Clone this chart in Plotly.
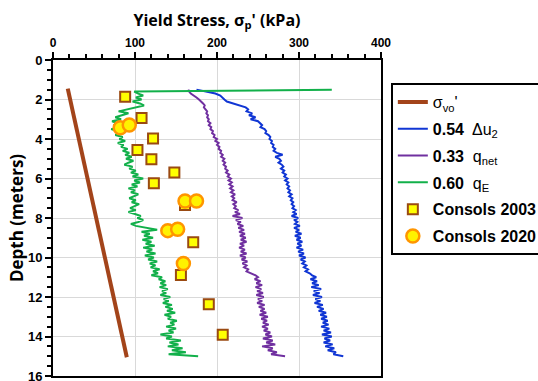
import numpy as np
import plotly.graph_objects as go

# CPT sounding depths (m), 0.1 m interval from 1.5 m to 15.0 m
depth = np.arange(15, 151) / 10.0

# Yield stress from CPT correlations (kPa), one value per depth
du2_054 = [
    175, 188, 198, 204, 206, 209, 212, 220, 229, 235,
    238, 236, 243, 239, 247, 241, 250, 252, 255, 253,
    258, 260, 259, 263, 265, 264, 267, 266, 269, 268,
    271, 269, 273, 280, 271, 276, 278, 275, 279, 281,
    278, 282, 280, 284, 282, 286, 283, 287, 285, 288,
    286, 289, 287, 291, 288, 292, 290, 293, 291, 294,
    292, 296, 293, 297, 291, 299, 294, 298, 295, 301,
    294, 300, 296, 303, 295, 302, 297, 304, 298, 303,
    297, 305, 299, 306, 300, 308, 302, 307, 304, 309,
    306, 311, 308, 313, 316, 321, 314, 322, 316, 324,
    315, 327, 318, 325, 317, 328, 320, 326, 319, 329,
    322, 330, 324, 333, 326, 334, 327, 335, 329, 336,
    327, 337, 330, 339, 328, 340, 331, 338, 330, 341,
    332, 343, 335, 345, 342, 354,
]
qnet_033 = [
    165, 166, 168, 172, 175, 178, 181, 183, 185, 184,
    186, 188, 187, 189, 188, 190, 189, 192, 190, 193,
    192, 195, 194, 197, 196, 200, 198, 202, 200, 203,
    202, 205, 204, 207, 205, 209, 207, 210, 208, 211,
    210, 213, 211, 215, 213, 217, 214, 218, 215, 219,
    216, 220, 217, 222, 218, 221, 219, 224, 220, 223,
    221, 226, 222, 228, 219, 231, 223, 229, 225, 232,
    226, 233, 227, 234, 228, 235, 229, 236, 228, 233,
    227, 234, 229, 236, 228, 235, 230, 237, 231, 236,
    233, 238, 236, 242, 247, 250, 246, 253, 248, 255,
    247, 254, 249, 256, 248, 257, 250, 255, 249, 258,
    251, 258, 253, 260, 252, 262, 254, 261, 256, 263,
    255, 262, 257, 265, 259, 267, 256, 268, 260, 271,
    255, 268, 262, 273, 266, 283,
]
qe_060 = [
    340, 99, 104, 110, 101, 108, 97, 106, 111, 100,
    88, 80, 92, 84, 76, 83, 72, 79, 74, 81,
    71, 78, 83, 76, 85, 81, 88, 79, 86, 83,
    91, 85, 93, 88, 96, 89, 98, 92, 87, 97,
    93, 101, 95, 104, 97, 110, 99, 106, 96, 103,
    92, 100, 95, 104, 98, 93, 101, 96, 105, 99,
    94, 101, 92, 100, 107, 103, 110, 104, 95, 101,
    112, 127, 108, 118, 111, 122, 109, 120, 113, 124,
    110, 121, 114, 125, 112, 123, 116, 127, 118, 125,
    119, 130, 122, 128, 120, 133, 129, 137, 131, 138,
    130, 140, 133, 138, 131, 143, 135, 141, 134, 145,
    137, 146, 139, 149, 136, 144, 140, 151, 143, 148,
    138, 150, 141, 147, 131, 145, 138, 156, 142, 153,
    140, 158, 145, 162, 141, 177,
]

# Effective overburden stress
svo_depth = [1.45, 15.05]
svo_kpa = [18, 90]

# Oedometer (consolidation) tests
cons2003_depth = [1.86, 2.94, 3.97, 4.56, 5.03, 5.70, 6.24, 7.34, 9.23, 10.89, 12.37, 13.91]
cons2003_kpa = [88, 108, 122, 103, 120, 148, 123, 161, 171, 156, 190, 207]
cons2020_depth = [3.43, 3.29, 7.14, 7.14, 8.64, 8.57, 10.30]
cons2020_kpa = [82, 93, 161, 175, 140, 152, 159]

FONT = "Liberation Sans"
TITLE_FONT = "Open Sans"

fig = go.Figure()
fig.add_trace(go.Scatter(x=svo_kpa, y=svo_depth, mode="lines", name="σ<sub>vo</sub>'",
                         line=dict(color="#A3441A", width=4), legendgroup="a"))
fig.add_trace(go.Scatter(x=du2_054, y=depth, mode="lines", name="<b>0.54</b>  Δu<sub>2</sub>",
                         line=dict(color="#1036D4", width=2), legendgroup="b"))
fig.add_trace(go.Scatter(x=qnet_033, y=depth, mode="lines", name="<b>0.33</b>  q<sub>net</sub>",
                         line=dict(color="#7030A0", width=2), legendgroup="c"))
fig.add_trace(go.Scatter(x=qe_060, y=depth, mode="lines", name="<b>0.60</b>  q<sub>E</sub>",
                         line=dict(color="#12B04A", width=2), legendgroup="d"))
fig.add_trace(go.Scatter(x=cons2003_kpa, y=cons2003_depth, mode="markers", name="<b>Consols 2003</b>",
                         marker=dict(symbol="square", size=10, color="#FFFF00",
                                     line=dict(color="#9A4A12", width=2)), legendgroup="e"))
fig.add_trace(go.Scatter(x=cons2020_kpa, y=cons2020_depth, mode="markers", name="<b>Consols 2020</b>",
                         marker=dict(symbol="circle", size=13, color="#FFF200",
                                     line=dict(color="#FF9500", width=2.5)), legendgroup="f"))

fig.update_layout(
    width=538, height=381,
    margin=dict(l=53, r=157, t=60, b=5, autoexpand=False),
    paper_bgcolor="white", plot_bgcolor="white",
    font=dict(family=FONT, color="black"),
    showlegend=True,
    legend=dict(x=1.03, y=0.927, xanchor="left", yanchor="top",
                bordercolor="black", borderwidth=2, bgcolor="white",
                font=dict(size=16, family=FONT), tracegroupgap=3,
                itemwidth=30),
)
fig.update_xaxes(
    range=[0, 400], side="top", dtick=100, tick0=0,
    showgrid=True, gridcolor="#D9D9D9", gridwidth=1,
    showline=True, linecolor="black", linewidth=2, mirror=True,
    ticks="outside", ticklen=6, tickwidth=1.5, tickcolor="black",
    minor=dict(dtick=20, ticks="outside", ticklen=4, tickwidth=1.5, tickcolor="black", showgrid=False),
    tickfont=dict(size=12, family=FONT),
    tickprefix="<b>", ticksuffix="</b>",
    ticklabeloverflow="allow",
    title=dict(text="<b>Yield Stress, σ<sub>p</sub>' (kPa)</b>", font=dict(size=16, family=TITLE_FONT), standoff=6),
    zeroline=False,
)
fig.update_yaxes(
    range=[16, 0], dtick=2, tick0=0,
    showgrid=True, gridcolor="#D9D9D9", gridwidth=1,
    showline=True, linecolor="black", linewidth=2, mirror=True,
    ticks="outside", ticklen=6, tickwidth=1.5, tickcolor="black",
    minor=dict(dtick=0.5, ticks="outside", ticklen=4, tickwidth=1.5, tickcolor="black", showgrid=False),
    tickfont=dict(size=13, family=FONT),
    tickprefix="<b>", ticksuffix="</b>",
    ticklabeloverflow="allow",
    title=dict(text="<b>Depth (meters)</b>", font=dict(size=17, family=TITLE_FONT), standoff=0),
    zeroline=False,
)

fig.write_html("out.html")
